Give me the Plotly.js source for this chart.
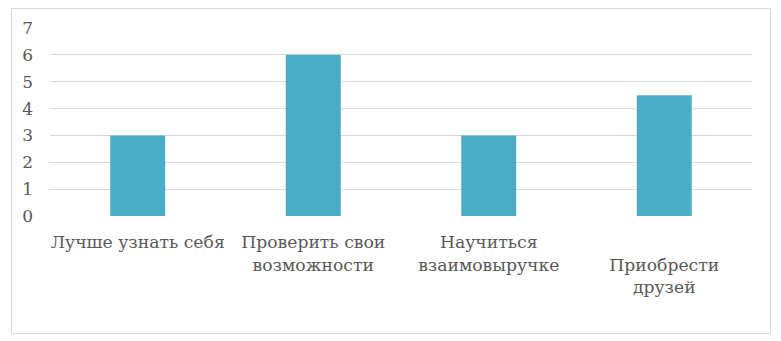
<!DOCTYPE html>
<html>
<head>
<meta charset="utf-8">
<script src="https://cdn.plot.ly/plotly-3.0.1.min.js"></script>
<style>
  html, body { margin: 0; padding: 0; background: #fff; }
  #chart { width: 781px; height: 341px; }
</style>
</head>
<body>
<div id="chart"></div>
<script>
// Goals named by participants and how many chose each
const categories = [
  "Лучше узнать себя",
  "Проверить свои<br>возможности",
  "Научиться<br>взаимовыручке",
  "<br>Приобрести<br>друзей"
];
const values = [3, 6, 3, 4.5];
const yTicks = [0, 1, 2, 3, 4, 5, 6, 7];

const ids = categories.map((_, i) => i);

const serif = "DejaVu Serif, serif";
const textColor = "#595959";

const trace = {
  type: "bar",
  x: ids,
  y: values,
  marker: { color: "#4BACC6" },
  hoverinfo: "skip"
};

const L = 50, R = 29, T = 28, B = 125;
const W = 781, H = 341;
const pw = W - L - R, ph = H - T - B;

const layout = {
  width: W, height: H,
  margin: { l: L, r: R, t: T, b: B },
  paper_bgcolor: "#fff",
  plot_bgcolor: "#fff",
  showlegend: false,
  bargap: 0.687,
  xaxis: {
    tickmode: "array",
    tickvals: ids,
    ticktext: categories,
    range: [-0.5, 3.5],
    showgrid: false,
    zeroline: false,
    showline: false,
    ticks: "",
    ticklabelstandoff: 14,
    tickfont: { family: serif, size: 17.2, color: textColor }
  },
  yaxis: {
    range: [0, 7],
    tickmode: "array",
    tickvals: yTicks,
    showgrid: true,
    gridcolor: "#D9D9D9",
    gridwidth: 1,
    zeroline: false,
    showline: false,
    ticks: "",
    ticklabelstandoff: 16,
    tickfont: { family: serif, size: 17, color: textColor }
  },
  // light frame around the whole chart
  shapes: [{
    type: "rect", xref: "paper", yref: "paper",
    x0: (11.5 - L) / pw, x1: (770.5 - L) / pw,
    y0: (H - B - 333.5) / ph, y1: (H - B - 8.5) / ph,
    line: { color: "#D9D9D9", width: 1 },
    layer: "below"
  }]
};

Plotly.newPlot("chart", [trace], layout, { displayModeBar: false, staticPlot: true });
</script>
</body>
</html>
